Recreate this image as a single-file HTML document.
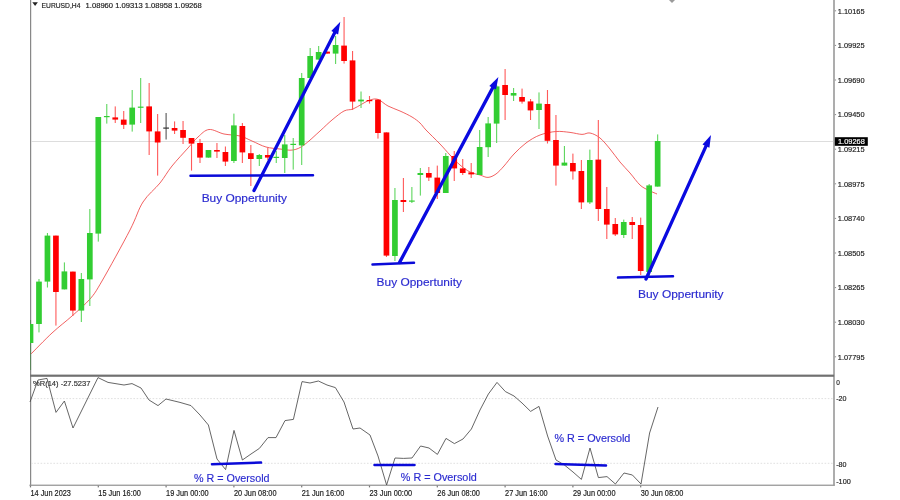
<!DOCTYPE html>
<html><head><meta charset="utf-8"><title>EURUSD H4</title>
<style>
html,body{margin:0;padding:0;background:#fff;}
body{width:900px;height:500px;overflow:hidden;font-family:"Liberation Sans",sans-serif;}
svg{display:block;position:absolute;left:0;top:0;}
text{font-family:"Liberation Sans",sans-serif;}
.ax{font-size:8px;fill:#1c1c1c;stroke:#1c1c1c;stroke-width:0.18px;}
.bl{font-size:10.6px;fill:#2a2ad0;stroke:#2a2ad0;stroke-width:0.15px;}
</style></head><body>
<svg width="900" height="500" viewBox="0 0 900 500" style="will-change:transform">
<rect x="0" y="0" width="900" height="500" fill="#ffffff"/>
<rect x="30.1" y="0" width="1.1" height="485.6" fill="#7c7c7c"/>
<rect x="833.2" y="0" width="1.6" height="485.6" fill="#9a9a9a"/>
<rect x="29.4" y="484.6" width="805.4" height="1.3" fill="#9a9a9a"/>
<rect x="30.1" y="374.6" width="804" height="2.2" fill="#707070"/>
<rect x="31.2" y="141" width="802" height="0.9" fill="#dadada"/>
<line x1="31" y1="398.6" x2="833" y2="398.6" stroke="#e0e0e0" stroke-width="1" stroke-dasharray="1.6 1.6"/>
<line x1="31" y1="463.3" x2="833" y2="463.3" stroke="#e0e0e0" stroke-width="1" stroke-dasharray="1.6 1.6"/>
<polygon points="669,0 675,0 672,3" fill="#9a9a9a"/>
<path fill="none" stroke="#ee4545" stroke-width="0.85" d="M30,355 C33.7,351.3 45.0,339.5 52,333 C59.0,326.5 65.7,321.7 72,316 C78.3,310.3 85.0,304.8 90,299 C95.0,293.2 95.3,292.5 102,281 C108.7,269.5 123.2,243.2 130,230 C136.8,216.8 138.0,209.8 143,202 C148.0,194.2 155.2,189.0 160,183 C164.8,177.0 167.3,171.8 172,166 C176.7,160.2 183.7,152.8 188,148 C192.3,143.2 194.5,140.1 198,137 C201.5,133.9 204.7,130.0 209,129.5 C213.3,129.0 218.8,132.9 224,134 C229.2,135.1 235.3,134.8 240,136 C244.7,137.2 247.7,139.2 252,141 C256.3,142.8 261.3,145.7 266,147 C270.7,148.3 275.5,148.5 280,149 C284.5,149.5 289.0,150.7 293,150 C297.0,149.3 299.5,148.2 304,145 C308.5,141.8 315.3,135.2 320,131 C324.7,126.8 328.0,123.3 332,120 C336.0,116.7 340.5,112.8 344,111 C347.5,109.2 350.0,110.2 353,109 C356.0,107.8 359.2,105.5 362,104 C364.8,102.5 367.3,100.8 370,100 C372.7,99.2 375.0,98.4 378,99.4 C381.0,100.4 384.3,104.1 388,106 C391.7,107.9 396.0,109.2 400,111 C404.0,112.8 408.7,115.0 412,117 C415.3,119.0 417.7,120.8 420,123 C422.3,125.2 422.7,126.5 426,130 C429.3,133.5 436.0,139.8 440,144 C444.0,148.2 446.7,151.5 450,155 C453.3,158.5 456.7,162.2 460,165 C463.3,167.8 466.7,170.3 470,172 C473.3,173.7 477.0,174.1 480,175 C483.0,175.9 485.3,177.6 488,177.4 C490.7,177.2 493.3,175.9 496,174 C498.7,172.1 501.0,169.3 504,166 C507.0,162.7 510.3,157.8 514,154 C517.7,150.2 521.7,146.2 526,143 C530.3,139.8 535.0,136.9 540,135 C545.0,133.1 551.0,131.9 556,131.5 C561.0,131.1 565.7,131.9 570,132.4 C574.3,132.9 578.7,134.3 582,134.4 C585.3,134.5 587.0,132.4 590,133 C593.0,133.6 596.7,135.3 600,138 C603.3,140.7 606.7,145.0 610,149 C613.3,153.0 616.7,158.0 620,162 C623.3,166.0 626.7,169.2 630,173 C633.3,176.8 637.0,182.2 640,185 C643.0,187.8 645.2,188.5 648,190 C650.8,191.5 655.5,193.3 657,194"/>
<clipPath id="cp"><rect x="30" y="0" width="803" height="374"/></clipPath><g clip-path="url(#cp)">
<rect x="29.95" y="320" width="1.1" height="50.0" fill="#5a845a"/>
<rect x="27.65" y="324" width="5.7" height="19.0" fill="#32cd32"/>
<rect x="38.43" y="279" width="1.1" height="53.4" fill="#5fd65f"/>
<rect x="36.12" y="281.6" width="5.7" height="42.4" fill="#32cd32"/>
<rect x="46.90" y="233" width="1.1" height="54.5" fill="#5fd65f"/>
<rect x="44.60" y="235.6" width="5.7" height="46.0" fill="#32cd32"/>
<rect x="55.38" y="235.6" width="1.1" height="90.0" fill="#ff5a5a"/>
<rect x="53.07" y="235.6" width="5.7" height="56.4" fill="#ff0000"/>
<rect x="63.85" y="262.4" width="1.1" height="27.0" fill="#5fd65f"/>
<rect x="61.55" y="271.4" width="5.7" height="18.0" fill="#32cd32"/>
<rect x="72.33" y="271.6" width="1.1" height="44.4" fill="#ff5a5a"/>
<rect x="70.03" y="271.6" width="5.7" height="39.0" fill="#ff0000"/>
<rect x="80.80" y="273" width="1.1" height="49.0" fill="#5fd65f"/>
<rect x="78.50" y="279" width="5.7" height="31.6" fill="#32cd32"/>
<rect x="89.27" y="209" width="1.1" height="97.0" fill="#5fd65f"/>
<rect x="86.97" y="233" width="5.7" height="46.4" fill="#32cd32"/>
<rect x="97.75" y="117" width="1.1" height="124.6" fill="#5fd65f"/>
<rect x="95.45" y="117" width="5.7" height="116.6" fill="#32cd32"/>
<rect x="106.22" y="104" width="1.1" height="19.6" fill="#5fd65f"/>
<rect x="103.92" y="116" width="5.7" height="1.2" fill="#32cd32"/>
<rect x="114.70" y="106.4" width="1.1" height="16.6" fill="#ff5a5a"/>
<rect x="112.40" y="117.4" width="5.7" height="2.2" fill="#ff0000"/>
<rect x="123.17" y="111" width="1.1" height="18.0" fill="#ff5a5a"/>
<rect x="120.88" y="119.6" width="5.7" height="5.2" fill="#ff0000"/>
<rect x="131.65" y="90" width="1.1" height="41.6" fill="#5fd65f"/>
<rect x="129.35" y="107.6" width="5.7" height="17.0" fill="#32cd32"/>
<rect x="140.12" y="78" width="1.1" height="45.0" fill="#5fd65f"/>
<rect x="137.83" y="106.6" width="5.7" height="1.2" fill="#32cd32"/>
<rect x="148.60" y="83" width="1.1" height="72.0" fill="#ff5a5a"/>
<rect x="146.30" y="106.4" width="5.7" height="25.0" fill="#ff0000"/>
<rect x="157.07" y="114" width="1.1" height="61.6" fill="#ff5a5a"/>
<rect x="154.78" y="131.4" width="5.7" height="11.1" fill="#ff0000"/>
<rect x="165.55" y="113" width="1.1" height="26.5" fill="#555"/>
<rect x="163.25" y="127.5" width="5.7" height="1.2" fill="#333333"/>
<rect x="174.02" y="121.4" width="1.1" height="12.6" fill="#ff5a5a"/>
<rect x="171.72" y="128" width="5.7" height="2.6" fill="#ff0000"/>
<rect x="182.50" y="121" width="1.1" height="23.0" fill="#ff5a5a"/>
<rect x="180.20" y="130" width="5.7" height="7.8" fill="#ff0000"/>
<rect x="190.97" y="138" width="1.1" height="32.6" fill="#ff5a5a"/>
<rect x="188.68" y="138" width="5.7" height="5.6" fill="#ff0000"/>
<rect x="199.45" y="139" width="1.1" height="24.0" fill="#ff5a5a"/>
<rect x="197.15" y="143" width="5.7" height="14.6" fill="#ff0000"/>
<rect x="207.92" y="150" width="1.1" height="7.6" fill="#5fd65f"/>
<rect x="205.62" y="150" width="5.7" height="7.6" fill="#32cd32"/>
<rect x="216.40" y="143" width="1.1" height="15.0" fill="#ff5a5a"/>
<rect x="214.10" y="150" width="5.7" height="1.6" fill="#ff0000"/>
<rect x="224.87" y="146.5" width="1.1" height="19.5" fill="#ff5a5a"/>
<rect x="222.57" y="152" width="5.7" height="9.6" fill="#ff0000"/>
<rect x="233.35" y="113.6" width="1.1" height="49.4" fill="#5fd65f"/>
<rect x="231.05" y="125.4" width="5.7" height="35.6" fill="#32cd32"/>
<rect x="241.82" y="123" width="1.1" height="40.0" fill="#ff5a5a"/>
<rect x="239.53" y="126" width="5.7" height="26.4" fill="#ff0000"/>
<rect x="250.30" y="145" width="1.1" height="41.0" fill="#ff5a5a"/>
<rect x="248.00" y="153.2" width="5.7" height="5.8" fill="#ff0000"/>
<rect x="258.77" y="154" width="1.1" height="12.0" fill="#5fd65f"/>
<rect x="256.47" y="155" width="5.7" height="4.0" fill="#32cd32"/>
<rect x="267.25" y="147.5" width="1.1" height="12.5" fill="#ff5a5a"/>
<rect x="264.95" y="155" width="5.7" height="2.6" fill="#ff0000"/>
<rect x="275.72" y="151" width="1.1" height="12.0" fill="#5fd65f"/>
<rect x="273.42" y="156.8" width="5.7" height="1.2" fill="#32cd32"/>
<rect x="284.20" y="135" width="1.1" height="38.0" fill="#5fd65f"/>
<rect x="281.90" y="144.4" width="5.7" height="13.6" fill="#32cd32"/>
<rect x="292.67" y="138" width="1.1" height="31.6" fill="#5fd65f"/>
<rect x="290.37" y="143.8" width="5.7" height="1.2" fill="#32cd32"/>
<rect x="301.15" y="73" width="1.1" height="92.0" fill="#5fd65f"/>
<rect x="298.85" y="78" width="5.7" height="67.4" fill="#32cd32"/>
<rect x="309.62" y="48" width="1.1" height="30.0" fill="#5fd65f"/>
<rect x="307.32" y="56" width="5.7" height="22.0" fill="#32cd32"/>
<rect x="318.10" y="46" width="1.1" height="13.6" fill="#5fd65f"/>
<rect x="315.80" y="52" width="5.7" height="7.6" fill="#32cd32"/>
<rect x="326.57" y="51.6" width="1.1" height="2.0" fill="#ff5a5a"/>
<rect x="324.27" y="51.6" width="5.7" height="2.0" fill="#ff0000"/>
<rect x="335.05" y="36" width="1.1" height="28.0" fill="#5fd65f"/>
<rect x="332.75" y="45" width="5.7" height="8.6" fill="#32cd32"/>
<rect x="343.52" y="17" width="1.1" height="46.6" fill="#ff5a5a"/>
<rect x="341.22" y="45.6" width="5.7" height="15.4" fill="#ff0000"/>
<rect x="352.00" y="51" width="1.1" height="59.0" fill="#ff5a5a"/>
<rect x="349.70" y="60.4" width="5.7" height="41.2" fill="#ff0000"/>
<rect x="360.47" y="91.5" width="1.1" height="16.5" fill="#5fd65f"/>
<rect x="358.17" y="99.6" width="5.7" height="1.8" fill="#32cd32"/>
<rect x="368.95" y="96" width="1.1" height="7.6" fill="#ff5a5a"/>
<rect x="366.65" y="100" width="5.7" height="1.2" fill="#ff0000"/>
<rect x="377.42" y="99" width="1.1" height="39.6" fill="#ff5a5a"/>
<rect x="375.12" y="99.6" width="5.7" height="33.4" fill="#ff0000"/>
<rect x="385.90" y="132.4" width="1.1" height="124.6" fill="#ff5a5a"/>
<rect x="383.60" y="132.4" width="5.7" height="123.2" fill="#ff0000"/>
<rect x="394.38" y="188" width="1.1" height="73.0" fill="#5fd65f"/>
<rect x="392.07" y="200" width="5.7" height="56.0" fill="#32cd32"/>
<rect x="402.85" y="178" width="1.1" height="34.0" fill="#ff5a5a"/>
<rect x="400.55" y="200" width="5.7" height="2.0" fill="#ff0000"/>
<rect x="411.32" y="187" width="1.1" height="16.0" fill="#5fd65f"/>
<rect x="409.02" y="200.5" width="5.7" height="1.2" fill="#32cd32"/>
<rect x="419.80" y="168" width="1.1" height="27.6" fill="#5fd65f"/>
<rect x="417.50" y="173" width="5.7" height="2.0" fill="#32cd32"/>
<rect x="428.27" y="167" width="1.1" height="14.0" fill="#ff5a5a"/>
<rect x="425.97" y="173" width="5.7" height="4.6" fill="#ff0000"/>
<rect x="436.75" y="165.6" width="1.1" height="33.4" fill="#ff5a5a"/>
<rect x="434.45" y="177.6" width="5.7" height="15.4" fill="#ff0000"/>
<rect x="445.22" y="153" width="1.1" height="40.0" fill="#5fd65f"/>
<rect x="442.92" y="156" width="5.7" height="37.0" fill="#32cd32"/>
<rect x="453.70" y="151" width="1.1" height="30.0" fill="#ff5a5a"/>
<rect x="451.40" y="156" width="5.7" height="12.4" fill="#ff0000"/>
<rect x="462.17" y="159" width="1.1" height="16.0" fill="#ff5a5a"/>
<rect x="459.87" y="168.4" width="5.7" height="4.6" fill="#ff0000"/>
<rect x="470.65" y="163" width="1.1" height="15.0" fill="#ff5a5a"/>
<rect x="468.35" y="172.4" width="5.7" height="2.0" fill="#ff0000"/>
<rect x="479.12" y="130" width="1.1" height="45.0" fill="#5fd65f"/>
<rect x="476.82" y="147" width="5.7" height="28.0" fill="#32cd32"/>
<rect x="487.60" y="117" width="1.1" height="40.0" fill="#5fd65f"/>
<rect x="485.30" y="123.4" width="5.7" height="23.8" fill="#32cd32"/>
<rect x="496.07" y="85" width="1.1" height="58.0" fill="#5fd65f"/>
<rect x="493.77" y="86.4" width="5.7" height="37.2" fill="#32cd32"/>
<rect x="504.55" y="69" width="1.1" height="51.0" fill="#ff5a5a"/>
<rect x="502.25" y="85" width="5.7" height="10.0" fill="#ff0000"/>
<rect x="513.03" y="88" width="1.1" height="13.0" fill="#5fd65f"/>
<rect x="510.73" y="93" width="5.7" height="2.6" fill="#32cd32"/>
<rect x="521.50" y="88.6" width="1.1" height="15.0" fill="#ff5a5a"/>
<rect x="519.20" y="97" width="5.7" height="4.6" fill="#ff0000"/>
<rect x="529.98" y="99" width="1.1" height="21.0" fill="#ff5a5a"/>
<rect x="527.67" y="101.4" width="5.7" height="9.0" fill="#ff0000"/>
<rect x="538.45" y="92.4" width="1.1" height="36.6" fill="#5fd65f"/>
<rect x="536.15" y="103.6" width="5.7" height="6.4" fill="#32cd32"/>
<rect x="546.93" y="90" width="1.1" height="53.5" fill="#ff5a5a"/>
<rect x="544.62" y="104" width="5.7" height="36.8" fill="#ff0000"/>
<rect x="555.40" y="115" width="1.1" height="70.6" fill="#ff5a5a"/>
<rect x="553.10" y="140" width="5.7" height="25.6" fill="#ff0000"/>
<rect x="563.88" y="146" width="1.1" height="19.6" fill="#5fd65f"/>
<rect x="561.57" y="162.6" width="5.7" height="3.0" fill="#32cd32"/>
<rect x="572.35" y="153.6" width="1.1" height="26.0" fill="#ff5a5a"/>
<rect x="570.05" y="163" width="5.7" height="8.4" fill="#ff0000"/>
<rect x="580.83" y="160" width="1.1" height="49.0" fill="#ff5a5a"/>
<rect x="578.52" y="171" width="5.7" height="31.4" fill="#ff0000"/>
<rect x="589.30" y="149.6" width="1.1" height="54.4" fill="#5fd65f"/>
<rect x="587.00" y="160" width="5.7" height="42.4" fill="#32cd32"/>
<rect x="597.77" y="120" width="1.1" height="101.0" fill="#ff5a5a"/>
<rect x="595.47" y="159.6" width="5.7" height="49.4" fill="#ff0000"/>
<rect x="606.25" y="187" width="1.1" height="52.0" fill="#ff5a5a"/>
<rect x="603.95" y="209" width="5.7" height="15.6" fill="#ff0000"/>
<rect x="614.73" y="218" width="1.1" height="18.0" fill="#ff5a5a"/>
<rect x="612.42" y="224" width="5.7" height="10.4" fill="#ff0000"/>
<rect x="623.20" y="219.6" width="1.1" height="18.4" fill="#5fd65f"/>
<rect x="620.90" y="222" width="5.7" height="13.0" fill="#32cd32"/>
<rect x="631.68" y="217" width="1.1" height="22.0" fill="#ff5a5a"/>
<rect x="629.38" y="222" width="5.7" height="3.0" fill="#ff0000"/>
<rect x="640.15" y="217.6" width="1.1" height="57.4" fill="#ff5a5a"/>
<rect x="637.85" y="225" width="5.7" height="46.0" fill="#ff0000"/>
<rect x="648.62" y="184" width="1.1" height="93.0" fill="#5fd65f"/>
<rect x="646.32" y="185.4" width="5.7" height="86.6" fill="#32cd32"/>
<rect x="657.10" y="134.4" width="1.1" height="52.2" fill="#5fd65f"/>
<rect x="654.80" y="141" width="5.7" height="45.6" fill="#32cd32"/>
</g>
<polyline fill="none" stroke="#4a4a4a" stroke-width="0.85" stroke-linejoin="round" points="30,402 38,380 47,378.4 56,412.4 64.4,401 73,428 98,377.6 108,382.4 124,385 132,383.6 141,388 149,400 158,405.6 166,399 180,402.4 191,405.6 200,415 208.4,425 217,459 225.6,469.6 234,430.4 242.4,460 251,454 259.4,448.4 268,437.6 276,437.6 285,420.6 293.4,419.4 302,381.6 310,383 318.4,381 327,385 335.4,387.6 344,402 353,429 360,428 370,435 378,456 386.6,485 395,458 403.6,458.4 412,458 420.6,446 429,448 437.4,454.4 446,438.4 454.4,443.6 463,439 471.4,429 480,410 488.4,394 497,382.4 505.4,391.6 514,396 522,403 530.6,411.4 539,406.4 547.6,436 556,460 564.4,465 573,472 581.4,479.4 590,448 598.4,477.6 607,476.6 615.4,484 624,473 632.4,475 641,484 649.6,433 658,407"/>
<line x1="190.5" y1="175.8" x2="313" y2="175.2" stroke="#0a0ad8" stroke-width="2.5" stroke-linecap="round"/>
<line x1="372.5" y1="264.4" x2="414" y2="262.8" stroke="#0a0ad8" stroke-width="2.5" stroke-linecap="round"/>
<line x1="618" y1="277.6" x2="673" y2="276.2" stroke="#0a0ad8" stroke-width="2.5" stroke-linecap="round"/>
<line x1="212" y1="464.2" x2="261" y2="462.6" stroke="#0a0ad8" stroke-width="2.5" stroke-linecap="round"/>
<line x1="374.5" y1="465" x2="414.5" y2="465" stroke="#0a0ad8" stroke-width="2.5" stroke-linecap="round"/>
<line x1="555.5" y1="464" x2="606" y2="465.4" stroke="#0a0ad8" stroke-width="2.5" stroke-linecap="round"/>
<line x1="254.0" y1="190.5" x2="335.6" y2="31.0" stroke="#0a0ae0" stroke-width="3.3" stroke-linecap="round"/><polygon points="340.3,21.8 338.1,34.5 331.3,31.0" fill="#0a0ae0"/>
<line x1="399.6" y1="262.4" x2="493.6" y2="86.1" stroke="#0a0ae0" stroke-width="3.3" stroke-linecap="round"/><polygon points="498.4,77.0 496.0,89.6 489.3,86.1" fill="#0a0ae0"/>
<line x1="646.0" y1="279.0" x2="706.8" y2="144.4" stroke="#0a0ae0" stroke-width="3.3" stroke-linecap="round"/><polygon points="711.0,135.0 709.4,147.8 702.5,144.6" fill="#0a0ae0"/>
<text class="bl" x="201.7" y="202.3" textLength="85.3" lengthAdjust="spacingAndGlyphs">Buy Oppertunity</text>
<text class="bl" x="376.6" y="286" textLength="85.3" lengthAdjust="spacingAndGlyphs">Buy Oppertunity</text>
<text class="bl" x="638" y="298.4" textLength="85.6" lengthAdjust="spacingAndGlyphs">Buy Oppertunity</text>
<text class="bl" x="194" y="481.6" textLength="75.5" lengthAdjust="spacingAndGlyphs">% R = Oversold</text>
<text class="bl" x="400.8" y="481" textLength="76" lengthAdjust="spacingAndGlyphs">% R = Oversold</text>
<text class="bl" x="554.4" y="441.6" textLength="76" lengthAdjust="spacingAndGlyphs">% R = Oversold</text>
<polygon points="32.3,2.3 37.9,2.3 35.1,5.9" fill="#222"/>
<text class="ax" x="41.6" y="7.5" textLength="38.8" lengthAdjust="spacingAndGlyphs">EURUSD,H4</text>
<text class="ax" x="85.6" y="7.5" textLength="116.2" lengthAdjust="spacingAndGlyphs">1.08960 1.09313 1.08958 1.09268</text>
<text class="ax" x="33" y="385.8" textLength="57.4" lengthAdjust="spacingAndGlyphs" style="font-size:8px;fill:#333;stroke:#333">%R(14) -27.5237</text>
<rect x="834.8" y="10.3" width="1.3" height="1" fill="#8a8a8a"/>
<text class="ax" x="837.8" y="13.6" textLength="26.8" lengthAdjust="spacingAndGlyphs">1.10165</text>
<rect x="834.8" y="44.9" width="1.3" height="1" fill="#8a8a8a"/>
<text class="ax" x="837.8" y="48.2" textLength="26.8" lengthAdjust="spacingAndGlyphs">1.09925</text>
<rect x="834.8" y="79.5" width="1.3" height="1" fill="#8a8a8a"/>
<text class="ax" x="837.8" y="82.8" textLength="26.8" lengthAdjust="spacingAndGlyphs">1.09690</text>
<rect x="834.8" y="114.1" width="1.3" height="1" fill="#8a8a8a"/>
<text class="ax" x="837.8" y="117.4" textLength="26.8" lengthAdjust="spacingAndGlyphs">1.09450</text>
<rect x="834.8" y="148.7" width="1.3" height="1" fill="#8a8a8a"/>
<text class="ax" x="837.8" y="152.0" textLength="26.8" lengthAdjust="spacingAndGlyphs">1.09215</text>
<rect x="834.8" y="183.3" width="1.3" height="1" fill="#8a8a8a"/>
<text class="ax" x="837.8" y="186.6" textLength="26.8" lengthAdjust="spacingAndGlyphs">1.08975</text>
<rect x="834.8" y="217.9" width="1.3" height="1" fill="#8a8a8a"/>
<text class="ax" x="837.8" y="221.2" textLength="26.8" lengthAdjust="spacingAndGlyphs">1.08740</text>
<rect x="834.8" y="252.5" width="1.3" height="1" fill="#8a8a8a"/>
<text class="ax" x="837.8" y="255.8" textLength="26.8" lengthAdjust="spacingAndGlyphs">1.08505</text>
<rect x="834.8" y="287.1" width="1.3" height="1" fill="#8a8a8a"/>
<text class="ax" x="837.8" y="290.4" textLength="26.8" lengthAdjust="spacingAndGlyphs">1.08265</text>
<rect x="834.8" y="321.7" width="1.3" height="1" fill="#8a8a8a"/>
<text class="ax" x="837.8" y="325.0" textLength="26.8" lengthAdjust="spacingAndGlyphs">1.08030</text>
<rect x="834.8" y="356.3" width="1.3" height="1" fill="#8a8a8a"/>
<text class="ax" x="837.8" y="359.6" textLength="26.8" lengthAdjust="spacingAndGlyphs">1.07795</text>
<rect x="834.8" y="137.2" width="33" height="8.6" fill="#000"/>
<text class="ax" x="838" y="144.4" textLength="26.8" lengthAdjust="spacingAndGlyphs" style="fill:#fff;stroke:#fff">1.09268</text>
<text class="ax" x="836.2" y="384.6" textLength="3.6" lengthAdjust="spacingAndGlyphs">0</text>
<text class="ax" x="836.2" y="401.4" textLength="10.3" lengthAdjust="spacingAndGlyphs">-20</text>
<text class="ax" x="836.2" y="466.8" textLength="10.3" lengthAdjust="spacingAndGlyphs">-80</text>
<text class="ax" x="836.2" y="483.6" textLength="14.6" lengthAdjust="spacingAndGlyphs">-100</text>
<rect x="29.9" y="485.6" width="1.2" height="1.8" fill="#777"/>
<text class="ax" x="30.5" y="495.7" textLength="40.4" lengthAdjust="spacingAndGlyphs" style="font-size:8.5px">14 Jun 2023</text>
<rect x="97.7" y="485.6" width="1.2" height="1.8" fill="#777"/>
<text class="ax" x="98.3" y="495.7" textLength="42.6" lengthAdjust="spacingAndGlyphs" style="font-size:8.5px">15 Jun 16:00</text>
<rect x="165.5" y="485.6" width="1.2" height="1.8" fill="#777"/>
<text class="ax" x="166.1" y="495.7" textLength="42.6" lengthAdjust="spacingAndGlyphs" style="font-size:8.5px">19 Jun 00:00</text>
<rect x="233.3" y="485.6" width="1.2" height="1.8" fill="#777"/>
<text class="ax" x="233.9" y="495.7" textLength="42.6" lengthAdjust="spacingAndGlyphs" style="font-size:8.5px">20 Jun 08:00</text>
<rect x="301.1" y="485.6" width="1.2" height="1.8" fill="#777"/>
<text class="ax" x="301.7" y="495.7" textLength="42.6" lengthAdjust="spacingAndGlyphs" style="font-size:8.5px">21 Jun 16:00</text>
<rect x="368.9" y="485.6" width="1.2" height="1.8" fill="#777"/>
<text class="ax" x="369.5" y="495.7" textLength="42.6" lengthAdjust="spacingAndGlyphs" style="font-size:8.5px">23 Jun 00:00</text>
<rect x="436.7" y="485.6" width="1.2" height="1.8" fill="#777"/>
<text class="ax" x="437.3" y="495.7" textLength="42.6" lengthAdjust="spacingAndGlyphs" style="font-size:8.5px">26 Jun 08:00</text>
<rect x="504.5" y="485.6" width="1.2" height="1.8" fill="#777"/>
<text class="ax" x="505.1" y="495.7" textLength="42.6" lengthAdjust="spacingAndGlyphs" style="font-size:8.5px">27 Jun 16:00</text>
<rect x="572.3" y="485.6" width="1.2" height="1.8" fill="#777"/>
<text class="ax" x="572.9" y="495.7" textLength="42.6" lengthAdjust="spacingAndGlyphs" style="font-size:8.5px">29 Jun 00:00</text>
<rect x="640.1" y="485.6" width="1.2" height="1.8" fill="#777"/>
<text class="ax" x="640.7" y="495.7" textLength="42.6" lengthAdjust="spacingAndGlyphs" style="font-size:8.5px">30 Jun 08:00</text>
</svg></body></html>
